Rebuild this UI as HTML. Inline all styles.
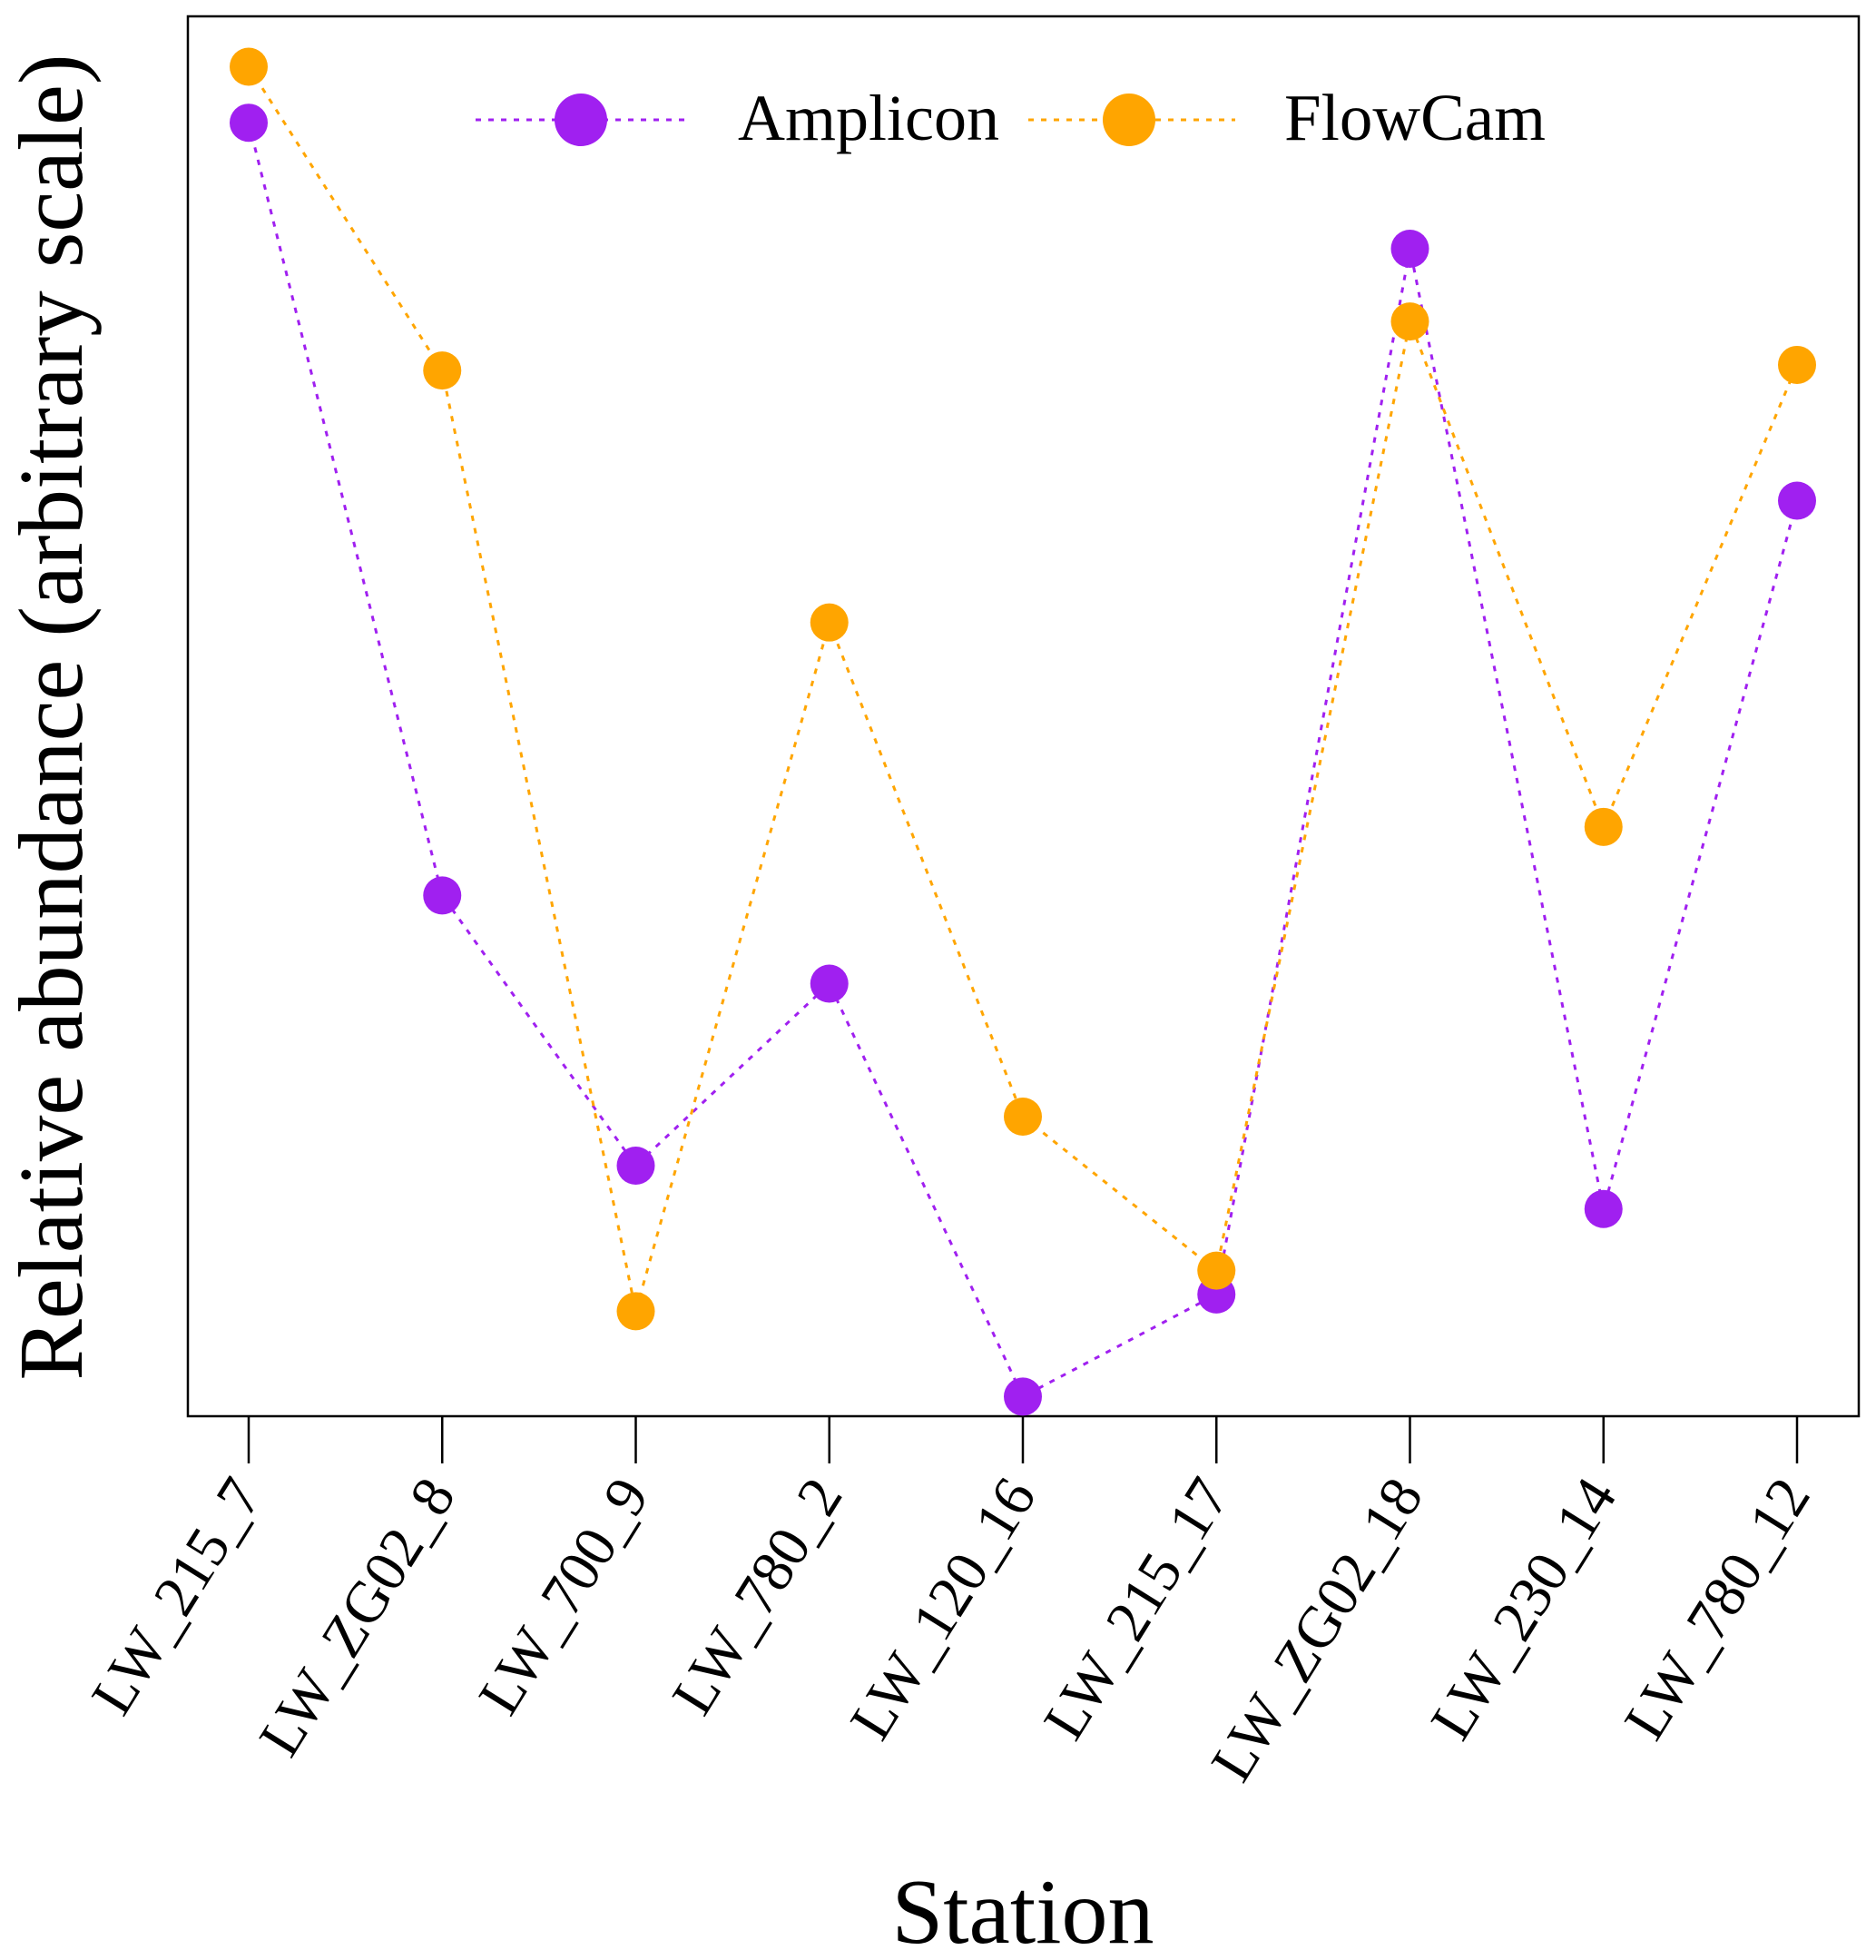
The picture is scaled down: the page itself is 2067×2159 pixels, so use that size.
<!DOCTYPE html>
<html><head><meta charset="utf-8"><style>
html,body{margin:0;padding:0;background:#fff;}
svg{display:block;font-family:"Liberation Serif",serif;}
</style></head><body>
<svg id="chart" width="2067" height="2159" viewBox="0 0 2067 2159">
<rect x="207" y="18" width="1841" height="1542" fill="none" stroke="#000" stroke-width="2.5"/>
<g id="marks"></g>
<g id="xticks"></g>
<g>
<line x1="524" y1="132" x2="755" y2="132" stroke="#A020F0" stroke-width="3" stroke-dasharray="6,8"/>
<circle cx="640" cy="132" r="29" fill="#A020F0"/>
<text x="813" y="154" font-size="72">Amplicon</text>
<line x1="1133" y1="132" x2="1361" y2="132" stroke="#FFA500" stroke-width="3" stroke-dasharray="6,8"/>
<circle cx="1244" cy="132" r="29" fill="#FFA500"/>
<text x="1415" y="154" font-size="73">FlowCam</text>
</g>
<text x="1127" y="2140" font-size="102" text-anchor="middle">Station</text>
<text transform="translate(90,790) rotate(-90)" font-size="101" text-anchor="middle">Relative abundance (arbitrary scale)</text>
</svg>
<script>
const categories = ["LW_215_7","LW_ZG02_8","LW_700_9","LW_780_2","LW_120_16","LW_215_17","LW_ZG02_18","LW_230_14","LW_780_12"];
const amplicon = [92.4, 37.2, 17.9, 30.9, 1.4, 8.7, 83.4, 14.8, 65.4];
const flowcam = [96.4, 74.7, 7.5, 56.7, 21.4, 10.4, 78.2, 42.1, 75.1];

const NS = "http://www.w3.org/2000/svg";
const plotTop = 18, plotBottom = 1560;
const x0 = 274, x1 = 1980;
function xScale(i){ return x0 + i * (x1 - x0) / (categories.length - 1); }
function yScale(v){ return plotBottom - v / 100 * (plotBottom - plotTop); }

const marks = document.getElementById('marks');
function drawSeries(vals, color, name){
  const pts = vals.map((v,i)=>xScale(i)+','+yScale(v)).join(' ');
  const pl = document.createElementNS(NS,'polyline');
  pl.setAttribute('points', pts);
  pl.setAttribute('fill','none');
  pl.setAttribute('stroke',color);
  pl.setAttribute('stroke-width','3');
  pl.setAttribute('stroke-dasharray','6,8');
  
  
  marks.appendChild(pl);
  vals.forEach((v,i)=>{
    const c = document.createElementNS(NS,'circle');
    c.setAttribute('cx', xScale(i));
    c.setAttribute('cy', yScale(v));
    c.setAttribute('r', 21);
    c.setAttribute('fill', color);
    
    
    marks.appendChild(c);
  });
}
drawSeries(amplicon, '#A020F0', 'amplicon');
drawSeries(flowcam, '#FFA500', 'flowcam');

const xt = document.getElementById('xticks');
categories.forEach((c,i)=>{
  const x = xScale(i);
  const l = document.createElementNS(NS,'line');
  l.setAttribute('x1',x); l.setAttribute('x2',x);
  l.setAttribute('y1',plotBottom); l.setAttribute('y2',1612);
  l.setAttribute('stroke','#000'); l.setAttribute('stroke-width','2.5');
  
  
  xt.appendChild(l);
  const t = document.createElementNS(NS,'text');
  t.setAttribute('transform','translate('+(x+16)+',1646) rotate(-58)');
  t.setAttribute('text-anchor','end');
  t.setAttribute('font-size','65');
  t.textContent = c;
  
  
  xt.appendChild(t);
});
</script>
</body></html>
